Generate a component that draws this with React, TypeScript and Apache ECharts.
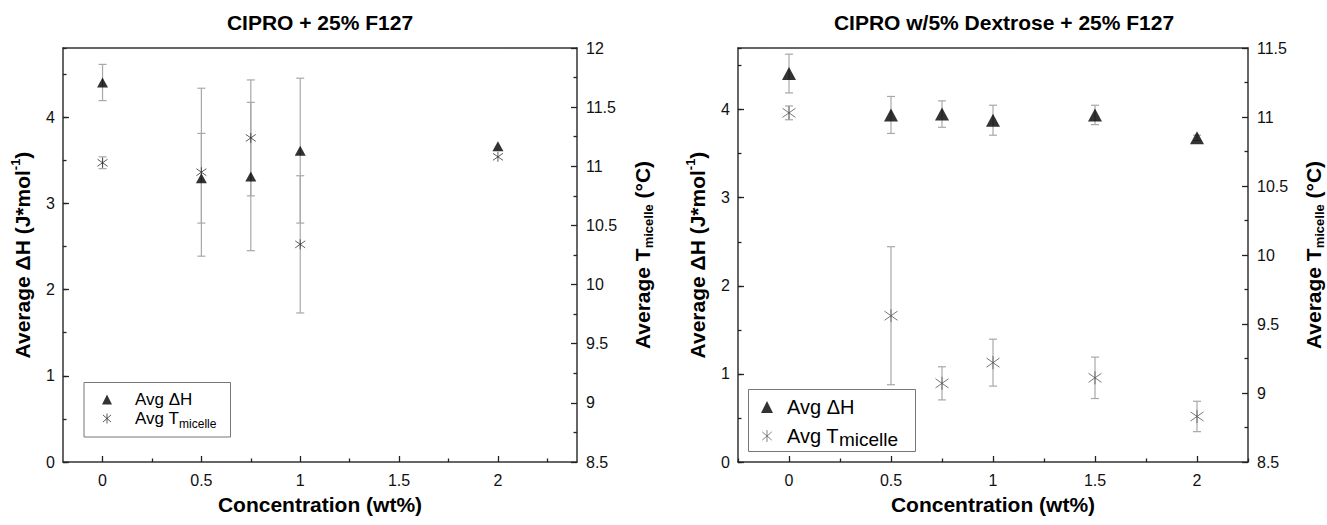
import { useEffect, useRef } from 'react';
import * as echarts from 'echarts';

// ---------- data ----------
const conc1 = [0, 0.5, 0.75, 1, 2];
const dh1 = [4.40, 3.29, 3.31, 3.61, 3.66];
const dh1Err = [0.21, 0.52, 0.86, 0.84, 0];
const tm1 = [11.03, 10.95, 11.24, 10.34, 11.08];
const tm1Err = [0.05, 0.71, 0.49, 0.58, 0];

const conc2 = [0, 0.5, 0.75, 1, 1.5, 2];
const dh2 = [4.41, 3.94, 3.95, 3.88, 3.94, 3.68];
const dh2Err = [0.22, 0.21, 0.15, 0.17, 0.11, 0.03];
const tm2 = [11.03, 9.56, 9.07, 9.22, 9.11, 8.83];
const tm2Err = [0.05, 0.50, 0.12, 0.17, 0.15, 0.11];

const xMajorTicks = [0, 0.5, 1, 1.5, 2];
const xMinorTicks1 = [0.25, 0.75, 1.25, 1.75, 2.25];
const xMinorTicks2 = [-0.25, 0.25, 0.75, 1.25, 1.75, 2.25];

const titles = ['CIPRO + 25% F127', 'CIPRO w/5% Dextrose + 25% F127'];
const xName = 'Concentration (wt%)';
const legendNames = ['Avg ΔH', 'Avg T'];

// ---------- styling ----------
const FONT = '"Liberation Sans", Arial, Helvetica, sans-serif';
const AX = '#333';
const TK = '#222';
const STAR = 'path://M5,0 L5,10 M1,1.5 L9,8.5 M1,8.5 L9,1.5';

function errData(xs: number[], vs: number[], es: number[]) {
  const out: number[][] = [];
  xs.forEach((x, i) => {
    if (es[i] > 0) out.push([x, vs[i] - es[i], vs[i] + es[i]]);
  });
  return out;
}

function errSeries(data: number[][], xi: number, yi: number, color: string) {
  return {
    type: 'custom',
    xAxisIndex: xi,
    yAxisIndex: yi,
    z: 1,
    silent: true,
    encode: { x: 0, y: [1, 2] },
    data,
    renderItem: (_p: any, api: any) => {
      const x = api.value(0);
      const top = api.coord([x, api.value(2)]);
      const bot = api.coord([x, api.value(1)]);
      const hw = 4;
      const style = { stroke: color, lineWidth: 1.2 };
      return {
        type: 'group',
        children: [
          { type: 'line', shape: { x1: top[0], y1: top[1], x2: bot[0], y2: bot[1] }, style },
          { type: 'line', shape: { x1: top[0] - hw, y1: top[1], x2: top[0] + hw, y2: top[1] }, style },
          { type: 'line', shape: { x1: bot[0] - hw, y1: bot[1], x2: bot[0] + hw, y2: bot[1] }, style },
        ],
      };
    },
  };
}

const labelStyle = { fontSize: 16, color: '#111', fontFamily: FONT };
const nameRich = {
  b: { fontSize: 21, fontWeight: 'bold', color: '#000', fontFamily: FONT, lineHeight: 26 },
  sup: { fontSize: 13, fontWeight: 'bold', color: '#000', fontFamily: FONT, verticalAlign: 'top', lineHeight: 14 },
  sub: { fontSize: 13, fontWeight: 'bold', color: '#000', fontFamily: FONT, verticalAlign: 'bottom', lineHeight: 14 },
};

function xAxes(grid: number, min: number, max: number, minors: number[]) {
  return [
    {
      type: 'value', gridIndex: grid, min, max, position: 'bottom',
      name: xName, nameLocation: 'middle', nameGap: 32,
      nameTextStyle: { fontSize: 21, fontWeight: 'bold', color: '#000', fontFamily: FONT },
      axisLine: { show: true, onZero: false, lineStyle: { color: AX, width: 1.5 } },
      axisTick: { show: true, inside: true, length: 6, customValues: xMajorTicks, lineStyle: { color: TK, width: 1.3 } },
      axisLabel: { ...labelStyle, margin: 10, customValues: xMajorTicks },
      splitLine: { show: false },
    },
    {
      type: 'value', gridIndex: grid, min, max, position: 'bottom',
      axisLine: { show: false, onZero: false },
      axisTick: { show: true, inside: true, length: 3.5, customValues: minors, lineStyle: { color: TK, width: 1.3 } },
      axisLabel: { show: false },
      splitLine: { show: false },
    },
    {
      type: 'value', gridIndex: grid, min, max, position: 'top',
      axisLine: { show: true, onZero: false, lineStyle: { color: AX, width: 1.5 } },
      axisTick: { show: false },
      axisLabel: { show: false },
      splitLine: { show: false },
    },
  ];
}

function yAxes(grid: number, leftMax: number, rMin: number, rMax: number, leftGap: number) {
  return [
    {
      type: 'value', gridIndex: grid, min: 0, max: leftMax, interval: 1, position: 'left',
      name: '{b|Average ΔH (J*mol}{sup|-1}{b|)}', nameLocation: 'middle', nameRotate: 90, nameGap: leftGap,
      nameTextStyle: { rich: nameRich },
      axisLine: { show: true, onZero: false, lineStyle: { color: AX, width: 1.5 } },
      axisTick: { show: true, inside: true, length: 6, lineStyle: { color: TK, width: 1.3 } },
      axisLabel: { ...labelStyle, margin: 8, showMaxLabel: false },
      splitLine: { show: false },
    },
    {
      type: 'value', gridIndex: grid, min: 0, max: leftMax, interval: 0.5, position: 'left',
      axisLine: { show: false, onZero: false },
      axisTick: { show: true, inside: true, length: 3.5, lineStyle: { color: TK, width: 1.3 } },
      axisLabel: { show: false },
      splitLine: { show: false },
    },
    {
      type: 'value', gridIndex: grid, min: rMin, max: rMax, interval: 0.5, position: 'right',
      name: '{b|Average T}{sub|micelle}{b| (°C)}', nameLocation: 'middle', nameRotate: 90, nameGap: 52,
      nameTextStyle: { rich: nameRich },
      axisLine: { show: true, onZero: false, lineStyle: { color: AX, width: 1.5 } },
      axisTick: { show: true, inside: true, length: 6, lineStyle: { color: TK, width: 1.3 } },
      minorTick: { show: true, splitNumber: 2, length: 3.5, lineStyle: { color: TK, width: 1.3 } },
      axisLabel: { ...labelStyle, margin: 9 },
      splitLine: { show: false },
    },
  ];
}

function legend(i: number, left: number, top: number, size: number, font: number, subFont: number, gap: number, pad: number, starColor: string) {
  const dh = 'dh' + i;
  const tm = 'tm' + i;
  return {
    orient: 'vertical', left, top, padding: 0,
    itemWidth: size, itemHeight: size, itemGap: gap,
    selectedMode: false,
    data: [
      { name: dh, icon: 'triangle', itemStyle: { color: '#000', borderWidth: 0 } },
      { name: tm, icon: STAR, itemStyle: { color: 'rgba(0,0,0,0)', borderColor: starColor, borderWidth: 1 } },
    ],
    formatter: (n: string) => (n === dh ? `{a|${legendNames[0]}}` : `{a|${legendNames[1]}}{s|micelle}`),
    textStyle: {
      padding: [0, 0, 0, pad],
      rich: {
        a: { fontSize: font, color: '#000', fontFamily: FONT, lineHeight: font + 6 },
        s: { fontSize: subFont, color: '#000', fontFamily: FONT, verticalAlign: 'bottom', lineHeight: subFont + 1 },
      },
    },
  };
}

export default function App() {
  const ref = useRef<HTMLDivElement>(null);
  useEffect(() => {
    if (!ref.current) return;
    const chart = echarts.init(ref.current, null, { renderer: 'svg' });
    const option: any = {
      animation: false,
      backgroundColor: '#fff',
      textStyle: { fontFamily: FONT },
      title: [
        { text: titles[0], left: 320, top: 12, textAlign: 'center', padding: 0,
          textStyle: { fontSize: 21, fontWeight: 'bold', color: '#000', fontFamily: FONT } },
        { text: titles[1], left: 1004, top: 12, textAlign: 'center', padding: 0,
          textStyle: { fontSize: 21, fontWeight: 'bold', color: '#000', fontFamily: FONT } },
      ],
      grid: [
        { left: 63, top: 48, width: 514, height: 414, show: false },
        { left: 738, top: 48, width: 514, height: 414, show: false },
      ],
      xAxis: [...xAxes(0, -0.2, 2.4, xMinorTicks1), ...xAxes(1, -0.25, 2.25, xMinorTicks2)],
      yAxis: [...yAxes(0, 4.8, 8.5, 12, 28), ...yAxes(1, 4.7, 8.5, 11.5, 28)],
      legend: [
        legend(1, 102, 391, 10, 17, 12, 2, 18, '#333'),
        legend(2, 761, 397, 12, 20, 19, 9, 9, '#666'),
      ],
      graphic: [
        { type: 'rect', shape: { x: 84, y: 382.5, width: 146.5, height: 54.5 }, style: { fill: 'rgba(0,0,0,0)', stroke: '#777', lineWidth: 1 } },
        { type: 'rect', shape: { x: 748.5, y: 389.5, width: 167, height: 62 }, style: { fill: 'rgba(0,0,0,0)', stroke: '#777', lineWidth: 1 } },
      ],
      series: [
        errSeries(errData(conc1, dh1, dh1Err), 0, 0, '#a8a8a8'),
        errSeries(errData(conc1, tm1, tm1Err), 0, 2, '#a8a8a8'),
        errSeries(errData(conc2, dh2, dh2Err), 3, 3, '#a8a8a8'),
        errSeries(errData(conc2, tm2, tm2Err), 3, 5, '#a8a8a8'),
        {
          name: 'dh1', type: 'scatter', xAxisIndex: 0, yAxisIndex: 0, z: 3,
          symbol: 'triangle', symbolSize: [11, 10], itemStyle: { color: '#000' },
          data: conc1.map((x, i) => [x, dh1[i]]),
        },
        {
          name: 'tm1', type: 'scatter', xAxisIndex: 0, yAxisIndex: 2, z: 3,
          symbol: STAR, symbolSize: 10,
          itemStyle: { color: 'rgba(0,0,0,0)', borderColor: '#333', borderWidth: 1 },
          data: conc1.map((x, i) => [x, tm1[i]]),
        },
        {
          name: 'dh2', type: 'scatter', xAxisIndex: 3, yAxisIndex: 3, z: 3,
          symbol: 'triangle', symbolSize: [14, 13], itemStyle: { color: '#000' },
          data: conc2.map((x, i) => [x, dh2[i]]),
        },
        {
          name: 'tm2', type: 'scatter', xAxisIndex: 3, yAxisIndex: 5, z: 3,
          symbol: STAR, symbolSize: 13,
          itemStyle: { color: 'rgba(0,0,0,0)', borderColor: '#555', borderWidth: 1 },
          data: conc2.map((x, i) => [x, tm2[i]]),
        },
      ],
    };
    chart.setOption(option);
    return () => chart.dispose();
  }, []);
  return (
    <div
      ref={ref}
      style={{ position: 'fixed', left: 0, top: 0, width: 1327, height: 525, background: '#fff' }}
    />
  );
}
